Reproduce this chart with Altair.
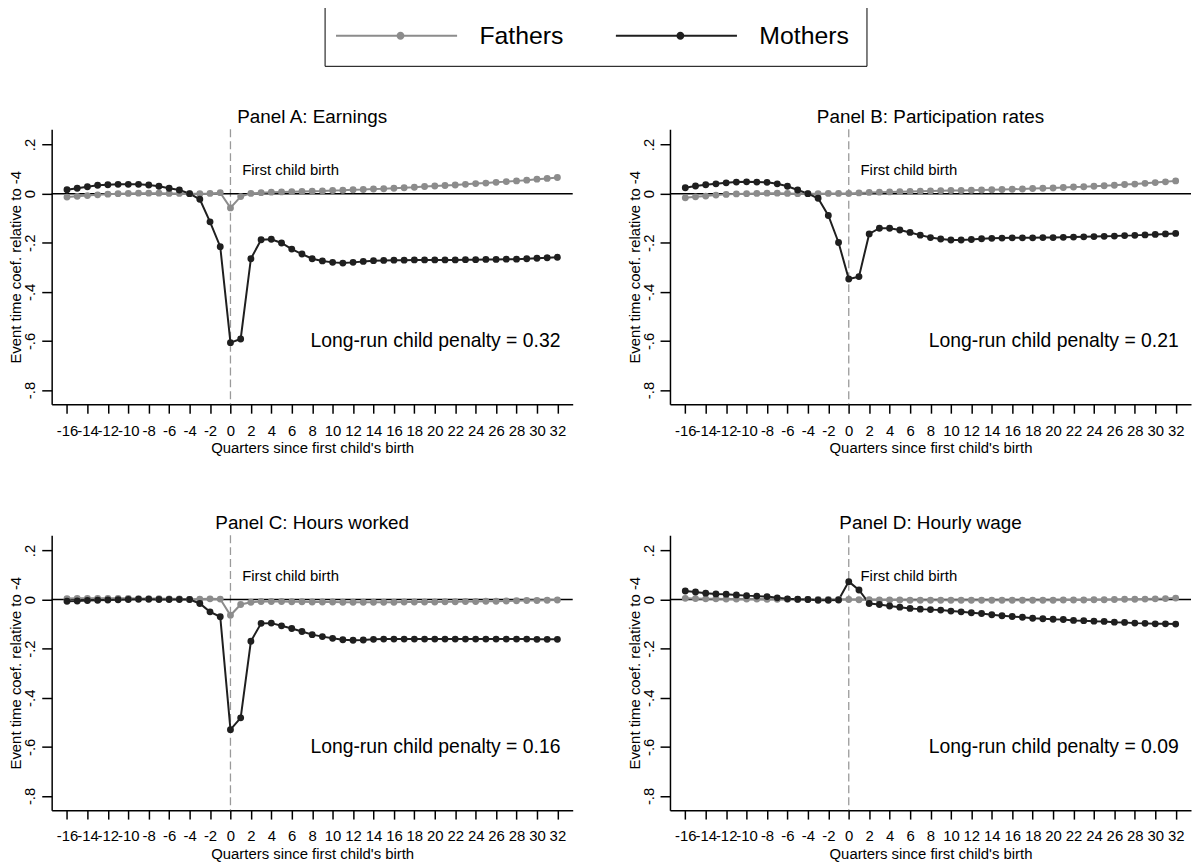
import altair as alt
import pandas as pd

quarters = list(range(-16, 33))

panel_titles = ["Panel A: Earnings", "Panel B: Participation rates",
                "Panel C: Hours worked", "Panel D: Hourly wage"]
penalties = ["0.32", "0.21", "0.16", "0.09"]
series_names = ["Fathers", "Mothers"]

a_mothers = [0.016, 0.022, 0.028, 0.034, 0.036, 0.038, 0.038, 0.038, 0.035, 0.030,
             0.022, 0.015, 0.000, -0.023, -0.115, -0.216, -0.607, -0.592, -0.265, -0.188,
             -0.186, -0.201, -0.226, -0.246, -0.265, -0.274, -0.280, -0.283, -0.280, -0.276,
             -0.273, -0.272, -0.271, -0.271, -0.270, -0.270, -0.270, -0.270, -0.270, -0.269,
             -0.269, -0.268, -0.268, -0.267, -0.267, -0.265, -0.263, -0.261, -0.259]
a_fathers = [-0.014, -0.011, -0.008, -0.005, -0.002, 0.000, 0.001, 0.002, 0.002, 0.002,
             0.001, 0.001, 0.000, 0.000, 0.001, 0.004, -0.058, -0.012, 0.001, 0.004,
             0.006, 0.007, 0.008, 0.009, 0.010, 0.011, 0.013, 0.014, 0.016, 0.017,
             0.019, 0.020, 0.022, 0.024, 0.026, 0.029, 0.031, 0.033, 0.035, 0.038,
             0.041, 0.043, 0.046, 0.049, 0.052, 0.055, 0.059, 0.062, 0.066]

b_mothers = [0.024, 0.031, 0.036, 0.040, 0.044, 0.047, 0.048, 0.047, 0.046, 0.040,
             0.030, 0.015, 0.000, -0.019, -0.089, -0.199, -0.348, -0.338, -0.164, -0.141,
             -0.141, -0.148, -0.158, -0.169, -0.179, -0.185, -0.189, -0.189, -0.187, -0.184,
             -0.182, -0.181, -0.180, -0.180, -0.180, -0.179, -0.179, -0.178, -0.177, -0.176,
             -0.175, -0.174, -0.173, -0.171, -0.170, -0.168, -0.166, -0.164, -0.162]
b_fathers = [-0.017, -0.013, -0.010, -0.006, -0.003, -0.001, 0.000, 0.001, 0.002, 0.002,
             0.001, 0.000, 0.000, 0.000, 0.001, 0.001, 0.001, 0.003, 0.005, 0.006,
             0.007, 0.008, 0.009, 0.010, 0.011, 0.012, 0.013, 0.013, 0.014, 0.015,
             0.016, 0.017, 0.018, 0.019, 0.021, 0.022, 0.023, 0.025, 0.027, 0.028,
             0.030, 0.032, 0.034, 0.037, 0.039, 0.042, 0.045, 0.048, 0.052]

c_mothers = [-0.007, -0.006, -0.004, -0.003, -0.002, -0.001, 0.000, 0.001, 0.001, 0.000,
             0.000, 0.000, 0.000, -0.016, -0.050, -0.070, -0.530, -0.482, -0.170, -0.097,
             -0.096, -0.107, -0.118, -0.130, -0.143, -0.151, -0.158, -0.164, -0.166, -0.165,
             -0.162, -0.161, -0.161, -0.161, -0.161, -0.161, -0.161, -0.161, -0.161, -0.161,
             -0.161, -0.161, -0.161, -0.161, -0.161, -0.161, -0.162, -0.162, -0.162]
c_fathers = [0.004, 0.005, 0.005, 0.005, 0.005, 0.005, 0.005, 0.004, 0.004, 0.004,
             0.003, 0.003, 0.000, 0.002, 0.003, 0.002, -0.064, -0.020, -0.011, -0.008,
             -0.008, -0.008, -0.009, -0.009, -0.010, -0.010, -0.010, -0.011, -0.011, -0.011,
             -0.011, -0.011, -0.011, -0.010, -0.010, -0.010, -0.010, -0.009, -0.009, -0.008,
             -0.008, -0.007, -0.007, -0.006, -0.005, -0.004, -0.004, -0.003, -0.002]

d_mothers = [0.035, 0.031, 0.026, 0.023, 0.022, 0.019, 0.016, 0.014, 0.012, 0.007,
             0.003, 0.001, 0.000, -0.003, -0.003, -0.002, 0.073, 0.039, -0.016, -0.020,
             -0.026, -0.031, -0.036, -0.039, -0.041, -0.043, -0.047, -0.050, -0.054, -0.057,
             -0.062, -0.066, -0.069, -0.072, -0.076, -0.078, -0.080, -0.081, -0.085, -0.086,
             -0.088, -0.089, -0.092, -0.093, -0.096, -0.097, -0.099, -0.099, -0.100]
d_fathers = [0.005, 0.004, 0.003, 0.003, 0.002, 0.002, 0.002, 0.002, 0.001, 0.001,
             0.001, 0.000, 0.000, 0.000, 0.000, 0.000, 0.000, -0.001, -0.001, -0.002,
             -0.002, -0.002, -0.003, -0.003, -0.003, -0.003, -0.003, -0.003, -0.003, -0.003,
             -0.003, -0.003, -0.003, -0.003, -0.003, -0.003, -0.003, -0.002, -0.002, -0.002,
             -0.001, -0.001, 0.000, 0.001, 0.001, 0.002, 0.003, 0.004, 0.006]

panel_series = [(a_fathers, a_mothers), (b_fathers, b_mothers),
                (c_fathers, c_mothers), (d_fathers, d_mothers)]

FONT = "Liberation Sans"
GRAY = "#8c8c8c"
BLACK = "#1f1f1f"

# legend symbol: line segment with a dot in the middle (custom path, unit = sqrt(size)/2)
LEG_PATH = ("M-1.8,-0.1L4.45,-0.1L4.45,0.1L-1.8,0.1Z "
            "M4.95,-0.1L10.4,-0.1L10.4,0.1L4.95,0.1Z "
            "M5.1,0A0.4,0.4 0 1,1 4.3,0A0.4,0.4 0 1,1 5.1,0Z")

xscale = alt.Scale(domain=[-17.5, 33.5], nice=False, zero=False)
yscale = alt.Scale(domain=[-0.858, 0.262], nice=False, zero=False)
cscale = alt.Scale(domain=series_names, range=[GRAY, BLACK])

xaxis = alt.Axis(values=list(range(-16, 33, 2)), title="Quarters since first child's birth",
                 labelExpr="datum.value < 0 ? '-' + (-datum.value) : '' + datum.value",
                 labelOverlap=False, labelFlush=False, tickSize=9, labelPadding=10,
                 titlePadding=3, labelFontSize=15, titleFontSize=15, grid=False)
yaxis = alt.Axis(values=[-0.8, -0.6, -0.4, -0.2, 0, 0.2], title="Event time coef. relative to -4",
                 labelExpr="datum.value == 0 ? '0' : (datum.value < 0 ? '-' : '') + "
                           "replace(format(abs(datum.value), '.1f'), '0.', '.')",
                 labelAngle=270, labelAlign="center", labelBaseline="alphabetic",
                 tickSize=10, labelPadding=7, titlePadding=-1,
                 labelFontSize=15, titleFontSize=15, grid=False)

legend = alt.Legend(orient="none", legendX=275, legendY=-124, direction="horizontal",
                    title=None, symbolType=LEG_PATH, symbolSize=400, symbolStrokeWidth=0,
                    labelOffset=114, columnPadding=52, padding=17, strokeColor="black",
                    labelFontSize=25, labelFont=FONT, labelColor="black", symbolOpacity=1)


def panel(i):
    fathers, mothers = panel_series[i]
    df = pd.DataFrame({
        "q": quarters + quarters,
        "v": fathers + mothers,
        "series": ["Fathers"] * len(quarters) + ["Mothers"] * len(quarters),
    })
    one = alt.Chart(pd.DataFrame({"label": [penalties[i]]}))
    base = alt.Chart(df)
    vline = one.mark_rule(color="#9a9a9a", strokeWidth=1.3, strokeDash=[8, 4]).encode(
        x=alt.datum(0, scale=xscale, axis=xaxis))
    zero = one.mark_rule(color="black", strokeWidth=1.5).encode(
        y=alt.datum(0, scale=yscale, axis=yaxis))
    lines = base.mark_line(strokeWidth=2).encode(
        x=alt.X("q:Q", scale=xscale, axis=xaxis),
        y=alt.Y("v:Q", scale=yscale, axis=yaxis),
        color=alt.Color("series:N", scale=cscale, legend=legend),
        detail="series:N",
    )
    pts = base.mark_circle(size=48, opacity=1).encode(
        x=alt.X("q:Q", scale=xscale, axis=xaxis),
        y=alt.Y("v:Q", scale=yscale, axis=yaxis),
        color=alt.Color("series:N", scale=cscale, legend=legend),
    )
    birth = one.mark_text(align="left", baseline="middle", fontSize=15, font=FONT,
                          color="black").encode(
        x=alt.datum(1.15, scale=xscale, axis=xaxis), y=alt.datum(0.097, scale=yscale, axis=yaxis),
        text=alt.value("First child birth"))
    pen = one.mark_text(align="right", baseline="middle", fontSize=19.5, font=FONT,
                        color="black").encode(
        x=alt.datum(32.3, scale=xscale, axis=xaxis), y=alt.datum(-0.6, scale=yscale, axis=yaxis),
        text=alt.Text("label:N", format=""))
    pen = pen.transform_calculate(label="'Long-run child penalty = ' + datum.label")
    return alt.layer(vline, zero, lines, pts, birth, pen).properties(
        width=525, height=277,
        title=alt.TitleParams(text=panel_titles[i], fontSize=19, font=FONT,
                              fontWeight="normal", color="black", anchor="middle", offset=2),
    )


chart = alt.concat(panel(0), panel(1), panel(2), panel(3), columns=2,
                   spacing={"row": 132, "column": 98}, bounds="flush").properties(
    padding={"left": 0, "top": -6, "right": 0, "bottom": 0}, background="white"
).configure_view(stroke=None).configure_axis(
    domainColor="black", domainWidth=1.5, tickColor="black", tickWidth=1.5,
    labelFont=FONT, titleFont=FONT, labelColor="black", titleColor="black",
    titleFontWeight="normal",
)

chart.save("out.html", embed_options={"renderer": "svg", "actions": False})
